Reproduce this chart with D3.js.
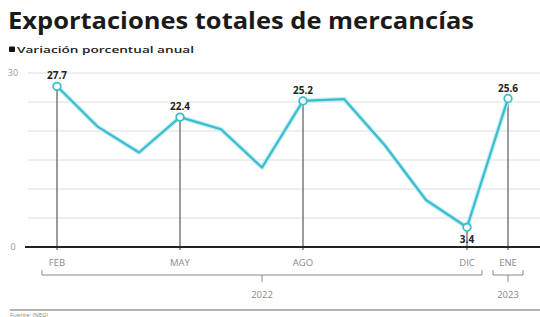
<!DOCTYPE html>
<html><head><meta charset="utf-8">
<script src="https://cdn.jsdelivr.net/npm/d3@7/dist/d3.min.js"></script>
<style>html,body{margin:0;padding:0;background:#fff;overflow:hidden}</style>
</head><body>
<svg id="c" width="540" height="317"></svg>
<script>
const months = ["FEB","MAR","ABR","MAY","JUN","JUL","AGO","SEP","OCT","NOV","DIC","ENE"];
const values = [27.7, 20.7, 16.3, 22.4, 20.3, 13.7, 25.2, 25.5, 17.5, 8.1, 3.4, 25.6];
const labeledMonths = ["FEB","MAY","AGO","DIC","ENE"];
const yTicks = [0, 30];
const gridValues = [0, 5, 10, 15, 20, 25, 30];
const years = [{label:"2022", from:"FEB", to:"DIC"}, {label:"2023", from:"ENE", to:"ENE"}];

const svg = d3.select("#c");
const x = d3.scalePoint().domain(months).range([57, 508]);
const y = d3.scaleLinear().domain([0, 30]).range([247, 73]);
const teal = "#3cbccc";

svg.append("text").attr("x", 8).attr("y", 29)
  .attr("font-family", "Open Sans").attr("font-weight", 700).attr("font-size", 23)
  .attr("fill", "#1a1a1a").attr("textLength", 466).attr("lengthAdjust", "spacingAndGlyphs")
  .text("Exportaciones totales de mercancías");
svg.append("rect").attr("x", 9).attr("y", 46.5).attr("width", 6).attr("height", 5.5).attr("rx", 1).attr("fill", "#111");
svg.append("text").attr("x", 17).attr("y", 53)
  .attr("font-family", "Open Sans").attr("font-weight", 600).attr("font-size", 9.5).attr("fill", "#222")
  .attr("textLength", 177).attr("lengthAdjust", "spacingAndGlyphs")
  .text("Variación porcentual anual");

// grid
svg.append("g").selectAll("line").data(gridValues.filter(d => d > 0)).join("line")
  .attr("x1", 28).attr("x2", 540).attr("y1", d => y(d)).attr("y2", d => y(d))
  .attr("stroke", "#dedede").attr("stroke-width", 1);

// y labels
svg.append("g").selectAll("text").data(yTicks).join("text")
  .attr("x", 13).attr("y", d => y(d) + 3).attr("text-anchor", "middle")
  .attr("font-family", "Open Sans").attr("font-size", 9).attr("fill", "#999")
  .text(d => d);

// vertical drop lines
svg.append("g").selectAll("line").data(labeledMonths).join("line")
  .attr("x1", d => x(d)).attr("x2", d => x(d))
  .attr("y1", d => y(values[months.indexOf(d)])).attr("y2", y(0) + 3)
  .attr("stroke", "#5a5a5a").attr("stroke-width", 1.2);

// x axis line
svg.append("line").attr("x1", 25).attr("x2", 540).attr("y1", y(0)).attr("y2", y(0))
  .attr("stroke", "#222").attr("stroke-width", 2);

// line
const data = months.map((m, i) => ({m, v: values[i]}));
const line = d3.line().x(d => x(d.m)).y(d => y(d.v));
svg.append("path").datum(data).attr("d", line).attr("fill", "none")
  .attr("stroke", "#bdeef4").attr("stroke-width", 4.5).attr("stroke-linejoin", "round");
svg.append("path").datum(data).attr("d", line).attr("fill", "none")
  .attr("stroke", teal).attr("stroke-width", 2.2).attr("stroke-linejoin", "round");

const lab = data.filter(d => labeledMonths.includes(d.m));
svg.append("g").selectAll("circle").data(lab).join("circle")
  .attr("cx", d => x(d.m)).attr("cy", d => y(d.v)).attr("r", 3.8)
  .attr("fill", "#fff").attr("stroke", teal).attr("stroke-width", 1.8);

svg.append("g").selectAll("text").data(lab).join("text")
  .attr("x", d => x(d.m)).attr("y", d => d.m === "DIC" ? y(d.v) + 16 : y(d.v) - 7)
  .attr("text-anchor", "middle").attr("font-family", "Open Sans").attr("font-weight", 700)
  .attr("font-size", 10).attr("fill", "#222").text(d => d.v.toFixed(1));

// month labels
svg.append("g").selectAll("text").data(labeledMonths).join("text")
  .attr("x", d => x(d)).attr("y", 266).attr("text-anchor", "middle")
  .attr("font-family", "Open Sans").attr("font-size", 9.5).attr("fill", "#8a8a8a")
  .text(d => d);

// year brackets
years.forEach(yr => {
  const x0 = x(yr.from) - 15, x1 = x(yr.to) + 15;
  const g = svg.append("g").attr("stroke", "#888").attr("fill", "none").attr("stroke-width", 1);
  g.append("path").attr("d", `M${x0},270 L${x0},275 L${x1},275 L${x1},270`);
  const cx = (x(yr.from) + x(yr.to)) / 2;
  g.append("line").attr("x1", cx).attr("x2", cx).attr("y1", 275).attr("y2", 282);
  svg.append("text").attr("x", cx).attr("y", 298).attr("text-anchor", "middle")
    .attr("font-family", "Open Sans").attr("font-size", 9.5).attr("fill", "#8a8a8a").text(yr.label);
});

// bottom rule & source
svg.append("line").attr("x1", 10).attr("x2", 540).attr("y1", 310).attr("y2", 310)
  .attr("stroke", "#666").attr("stroke-width", 1);
svg.append("text").attr("x", 10).attr("y", 316.5).attr("font-family", "Open Sans")
  .attr("font-size", 6).attr("fill", "#888").text("Fuente: INEGI");
</script>
</body></html>
